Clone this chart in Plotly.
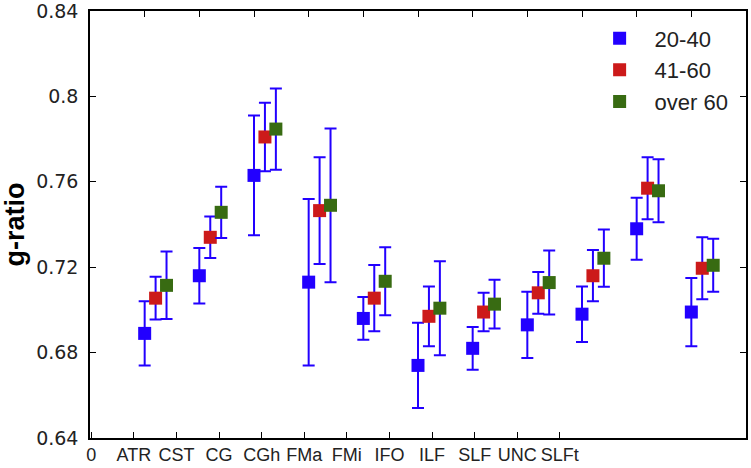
import plotly.graph_objects as go

# tract names along the bottom axis
tracts = ["ATR", "CST", "CG", "CGh", "FMa", "FMi", "IFO", "ILF", "SLF", "UNC", "SLFt"]
age_groups = ["20-40", "41-60", "over 60"]

# mean g-ratio and error
g_20_40 = [0.689, 0.716, 0.763, 0.713, 0.696, 0.674, 0.682, 0.693, 0.698, 0.738, 0.699]
err_20_40 = [0.015, 0.013, 0.028, 0.039, 0.010, 0.020, 0.010, 0.0155, 0.013, 0.0145, 0.016]
g_41_60 = [0.7055, 0.734, 0.781, 0.7465, 0.7055, 0.697, 0.699, 0.708, 0.716, 0.757, 0.7195]
err_41_60 = [0.010, 0.0097, 0.016, 0.025, 0.0155, 0.014, 0.009, 0.0098, 0.012, 0.0145, 0.0145]
g_over_60 = [0.7115, 0.7457, 0.7847, 0.749, 0.7134, 0.7008, 0.7027, 0.7128, 0.7242, 0.7558, 0.7209]
err_over_60 = [0.0158, 0.012, 0.019, 0.036, 0.0159, 0.022, 0.0114, 0.015, 0.0134, 0.0148, 0.0124]

y_ticks = [0.64, 0.68, 0.72, 0.76, 0.8, 0.84]
y_ticktext = ["0.64", "0.68", "0.72", "0.76", "0.8", "0.84"]

series = [g_20_40, g_41_60, g_over_60]
errors = [err_20_40, err_41_60, err_over_60]
colors = ["#2200ff", "#cc1a1a", "#386b12"]
offsets = [0.0, 0.2, 0.4]
err_color = "#2200ff"

fig = go.Figure()
# empty trace so the bottom label axis gets drawn
fig.add_trace(go.Scatter(x=[], y=[], xaxis="x2", yaxis="y", showlegend=False, hoverinfo="skip"))
for name, vals, errs, col, off in zip(age_groups, series, errors, colors, offsets):
    fig.add_trace(go.Scatter(
        x=[i + 1 + off for i in range(len(tracts))],
        y=vals,
        mode="markers",
        name=name,
        marker=dict(symbol="square", size=13, color=col),
        error_y=dict(type="data", array=errs, visible=True,
                     color=err_color, thickness=2, width=6),
    ))

font_name = "Liberation Sans, Arial, sans-serif"

fig.update_layout(
    width=751, height=468,
    margin=dict(l=90, r=5, t=11, b=30),
    paper_bgcolor="white", plot_bgcolor="white",
    showlegend=True,
    legend=dict(x=0.754, y=0.985, xanchor="left", yanchor="top",
                font=dict(family=font_name, size=22, color="#222"),
                itemwidth=60, bgcolor="rgba(0,0,0,0)"),
    # data axis (top, ticks only)
    xaxis=dict(range=[0, 12], side="top", anchor="y", tickmode="linear", tick0=0, dtick=1,
               ticks="inside", ticklen=6, tickcolor="black", showticklabels=False,
               showline=True, linecolor="black", linewidth=1.5,
               showgrid=False, zeroline=False, automargin=False),
    # label axis (bottom)
    xaxis2=dict(range=[-0.03, 15.37], overlaying="x", side="bottom", anchor="y",
                tickmode="array", tickvals=list(range(len(tracts) + 1)),
                ticktext=["0"] + tracts,
                ticks="inside", ticklen=6, tickcolor="black",
                showline=True, linecolor="black", linewidth=1.5,
                showgrid=False, zeroline=False, automargin=False,
                tickfont=dict(family=font_name, size=18, color="#222")),
    yaxis=dict(range=[0.64, 0.84], tickmode="array", tickvals=y_ticks, ticktext=y_ticktext,
               ticks="inside", ticklen=6, tickcolor="black", mirror="ticks",
               showline=True, linecolor="black", linewidth=1.5,
               showgrid=False, zeroline=False, automargin=False,
               ticklabeloverflow="allow",
               tickfont=dict(family="DejaVu Sans, sans-serif", size=19, color="#222"),
               ticklabelstandoff=6,
               title=dict(text="<b>g-ratio</b>", standoff=6,
                          font=dict(family=font_name, size=27, color="black"))),
)

# page body has an 8px default margin; drop it so the figure sits at the corner
fig.write_html("out.html", config={"displayModeBar": False},
               post_script="document.body.style.margin='0';")
